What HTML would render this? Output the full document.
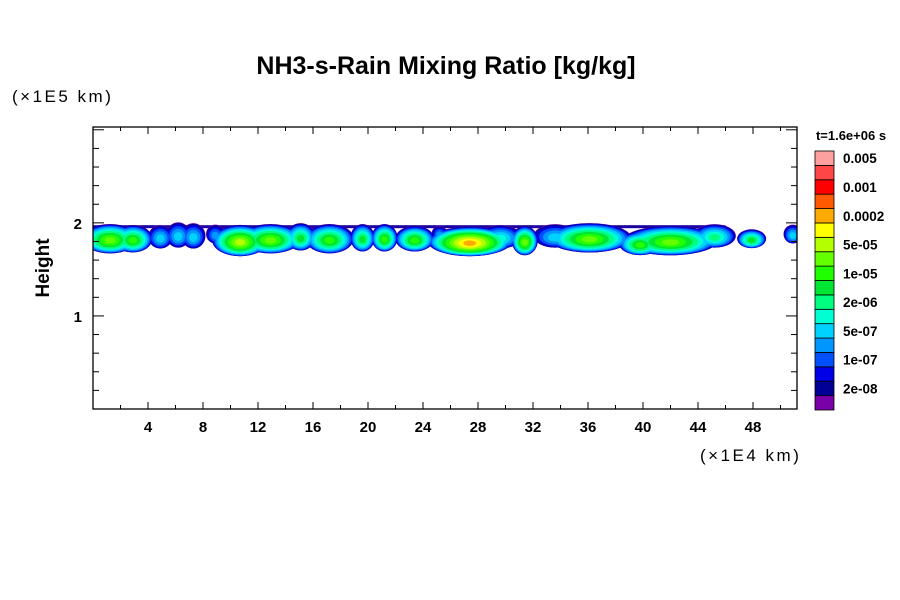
<!DOCTYPE html>
<html><head><meta charset="utf-8"><style>
body{margin:0;background:#fff;}
svg{display:block;font-family:"Liberation Sans",sans-serif;}
</style></head><body>
<svg id="chart" width="900" height="600" viewBox="0 0 900 600">
<rect x="0" y="0" width="900" height="600" fill="#fff"/>
<text x="446" y="74" text-anchor="middle" font-size="25" font-weight="bold">NH3-s-Rain Mixing Ratio [kg/kg]</text>
<text x="12" y="102" font-size="17" fill="#000" letter-spacing="2.5">(×1E5 km)</text>
<text x="700" y="461" font-size="17" fill="#000" letter-spacing="2.5">(×1E4 km)</text>
<text transform="translate(49,268) rotate(-90)" text-anchor="middle" font-size="19" font-weight="bold">Height</text>
<text x="851" y="140" text-anchor="middle" font-size="13" font-weight="bold">t=1.6e+06 s</text>
<g id="blobs"></g>
<g id="axes"></g>
<g id="cbar"></g>
</svg>
<script>
const levelColors=["#7a00a8","#000096","#0000e6","#0050ff","#0096ff","#00d2ff","#00ffd2","#00ff80","#00e632","#20ff00","#64ff00","#b4ff00","#ffff00","#ffaa00","#ff5a00","#ff0000","#ff4646","#ffa0a0"];
const cbarLabels=["2e-08","1e-07","5e-07","2e-06","1e-05","5e-05","0.0002","0.001","0.005"];
const blobX=[1.24,2.9,4.9,6.2,7.3,8.9,10.7,12.9,15.1,17.2,19.6,21.2,23.4,25.2,27.4,29.6,31.4,33.6,36.1,39.8,42.0,45.2,47.9,50.9];
const blobY=[1.83,1.83,1.85,1.87,1.86,1.88,1.81,1.83,1.85,1.83,1.84,1.84,1.83,1.89,1.80,1.85,1.81,1.86,1.84,1.78,1.81,1.86,1.83,1.88];
const blobW=[1.45,1.0,0.6,0.6,0.6,0.45,1.45,1.6,0.73,1.25,0.6,0.65,1.0,0.36,2.2,1.1,0.65,1.1,2.2,1.1,2.5,1.1,0.73,0.45];
const blobH=[0.14,0.13,0.11,0.12,0.12,0.086,0.15,0.14,0.13,0.14,0.13,0.13,0.12,0.065,0.14,0.11,0.14,0.11,0.14,0.11,0.14,0.11,0.086,0.086];
const blobPeak=[10,9,5,5,5,4,11,10,8,9,8,9,9,4,13,6,10,5,10,9,10,7,8,5];
const xTicks=[4,8,12,16,20,24,28,32,36,40,44,48];
const yTicks=[1,2];
const X0=93,X1=797,Y0=409,Y1=127,XMAX=51.2,YMAX=3.03;
const sx=v=>X0+v/XMAX*(X1-X0), sy=v=>Y0-v/YMAX*(Y0-Y1);
const NS="http://www.w3.org/2000/svg";
function mk(t,a,p){const e=document.createElementNS(NS,t);for(const k in a)e.setAttribute(k,a[k]);p.appendChild(e);return e;}
const bg=document.getElementById('blobs');
const cp=mk('clipPath',{id:'pc'},bg);mk('rect',{x:X0,y:Y1,width:X1-X0,height:Y0-Y1},cp);
const inner=mk('g',{'clip-path':'url(#pc)'},bg);
const topLayer=mk('rect',{x:sx(0),y:sy(1.975),width:sx(46)-sx(0),height:3,fill:"#1a00a0"},inner);


const maxPeak=Math.max(...blobPeak);
for(let k=0;k<=maxPeak;k++){
  const g=mk('g',{},inner);
  
  
  for(let i=0;i<blobX.length;i++){
    const p=blobPeak[i];
    if(k>p)continue;
    const f=k/(p+1);
    const s=1-Math.pow(f,1.9);
    const rx=(sx(blobW[i])-sx(0))*1.35*s+1, ry=(sy(0)-sy(blobH[i]))*1.05*s+1;
    const e=mk('ellipse',{cx:sx(blobX[i]),cy:sy(blobY[i]-0.02*f),rx:rx,ry:ry,fill:levelColors[k]},g);
    
    
  }
}
const ax=document.getElementById('axes');
mk('rect',{x:X0,y:Y1,width:X1-X0,height:Y0-Y1,fill:'none',stroke:'#000','stroke-width':1.3},ax);
for(let v=2;v<XMAX;v+=2){const L=(v%4===0)?7:4;const x=sx(v);
  mk('line',{x1:x,x2:x,y1:Y0,y2:Y0-L,stroke:'#000'},ax);mk('line',{x1:x,x2:x,y1:Y1,y2:Y1+L,stroke:'#000'},ax);}
for(let k=1;k*0.2<YMAX;k++){const v=k*0.2;const L=(k%5===0)?11:6;const y=sy(v);
  mk('line',{x1:X0,x2:X0+L,y1:y,y2:y,stroke:'#000'},ax);mk('line',{x1:X1,x2:X1-L,y1:y,y2:y,stroke:'#000'},ax);}
xTicks.forEach(v=>{const t=mk('text',{x:sx(v),y:432,'text-anchor':'middle','font-size':15,'font-weight':'bold'},ax);t.textContent=v;
  
  });
yTicks.forEach(v=>{const t=mk('text',{x:82,y:sy(v)+6,'text-anchor':'end','font-size':15,'font-weight':'bold'},ax);t.textContent=v;
  
  });
const cb=document.getElementById('cbar');
const CX=815,CW=19,CT=151,CB=410,n=levelColors.length,h=(CB-CT)/n;
levelColors.forEach((c,i)=>{const r=mk('rect',{x:CX,y:CB-(i+1)*h,width:CW,height:h,fill:c,stroke:'#000','stroke-width':0.8},cb);
  
  });
cbarLabels.forEach((l,j)=>{const y=CB-(2*j+1)*h-h/2+5;const t=mk('text',{x:843,y:y,'font-size':13.5,'font-weight':'bold'},cb);t.textContent=l;
  
  });
</script>
</body></html>
